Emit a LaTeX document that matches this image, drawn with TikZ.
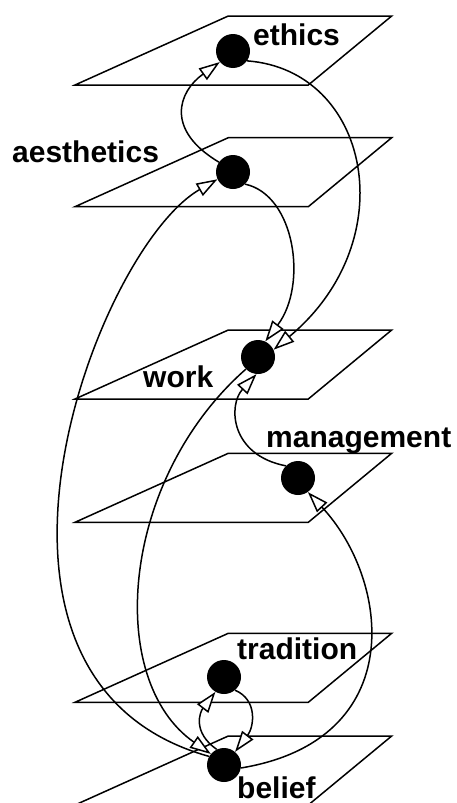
\documentclass[tikz,border=0pt]{standalone}
\usepackage{fontspec}
\setmainfont{Liberation Sans}
\usetikzlibrary{arrows.meta}
\tikzset{
  topicdot/.style={circle,fill=black,inner sep=0pt,minimum size=34pt},
  topiclabel/.style={anchor=base west,inner sep=0pt,font=\bfseries\fontsize{30}{30}\selectfont},
  planeedge/.style={line width=1.5pt,line join=miter},
  linkarrow/.style={line width=1.5pt,-{Triangle[length=21pt,width=14pt,fill=white]}}
}

\begin{document}
\begin{tikzpicture}[x=1pt,y=-1pt]
  \useasboundingbox (0,0) rectangle (457,803);
  % one plane per level
  \foreach \ytop in {16,137.7,330,453.3,633.3,736}
    \draw[planeedge] (75,\ytop+69) -- (228.3,\ytop) -- (391.7,\ytop)
      -- (308.3,\ytop+69) -- cycle;
  \node[topicdot] (ethics) at (233,51) {};
  \node[topicdot] (aesthetics) at (233,172) {};
  \node[topicdot] (work) at (258,357) {};
  \node[topicdot] (management) at (298,478) {};
  \node[topicdot] (tradition) at (224,677) {};
  \node[topicdot] (belief) at (224,765) {};
  % links between the levels
  \draw[linkarrow] (aesthetics.145) .. controls (165,130) and (178,92) .. (ethics.220);
  \draw[linkarrow] (ethics.-35) .. controls (370,70) and (405,240) .. (work.25);
  \draw[linkarrow] (aesthetics.-45) .. controls (295,195) and (308,285) .. (work.65);
  \draw[linkarrow] (management.135) .. controls (230,455) and (228,405) .. (work.-95);
  \draw[linkarrow] (belief.150) .. controls (-65,680) and (95,250) .. (aesthetics.205);
  \draw[linkarrow] (work.225) .. controls (120,480) and (105,680) .. (belief.140);
  \draw[linkarrow] (belief.115) .. controls (192,732) and (200,712) .. (tradition.240);
  \draw[linkarrow] (tradition.-50) .. controls (258,700) and (254,727) .. (belief.50);
  \draw[linkarrow] (belief.-10) .. controls (410,740) and (390,580) .. (management.-55);
  % level names
  \node[topiclabel] (ethicslbl) at (253,45) {ethics};
  \node[topiclabel] (aestheticslbl) at (12,162) {aesthetics};
  \node[topiclabel] (worklbl) at (143,387) {work};
  \node[topiclabel] (managementlbl) at (266,447) {management};
  \node[topiclabel] (traditionlbl) at (237,659) {tradition};
  \node[topiclabel] (belieflbl) at (237,798) {belief};
\end{tikzpicture}
\end{document}
